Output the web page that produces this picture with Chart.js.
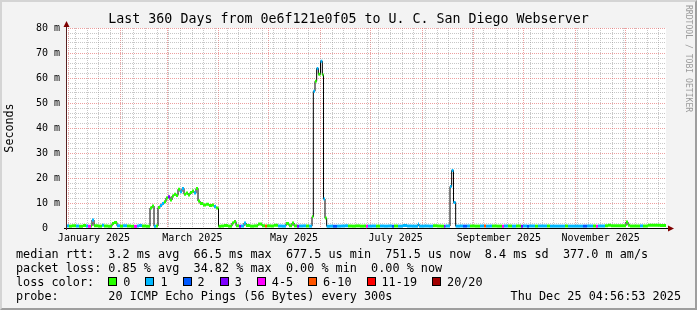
<!DOCTYPE html>
<html>
<head>
<meta charset="utf-8">
<script src="https://cdn.jsdelivr.net/npm/chart.js@4.4.1/dist/chart.umd.min.js"></script>
<style>
html, body { margin: 0; padding: 0; }
body { width: 697px; height: 310px; background: #f3f3f3; position: relative; overflow: hidden;
       font-family: 'DejaVu Sans Mono', monospace; color: #000; }
#wrap { position: absolute; left: 0; top: 0; width: 697px; height: 310px; }
#frame { position: absolute; left: 0; top: 0; width: 697px; height: 310px; box-sizing: border-box;
         border: 2px solid; border-color: #d4d4d4 #9e9e9e #9e9e9e #d4d4d4; pointer-events: none; }
#title { position: absolute; top: 11px; left: 0; width: 697px; text-align: center;
         font-size: 13.3px; line-height: 16px; white-space: pre; }
#mark { position: absolute; left: 684px; top: 5px; writing-mode: vertical-rl;
        font-size: 8.1px; color: #9a9a9a; white-space: pre; }
.leg { position: absolute; left: 16px; font-size: 11.8px; line-height: 14px; white-space: pre; }
#l1 { top: 247px; }
#l2 { top: 261px; }
#l3 { top: 275px; display: flex; align-items: baseline; }
#l4 { top: 289px; }
#stamp { position: absolute; right: 16px; top: 289px; font-size: 11.8px; line-height: 14px; white-space: pre; }
.box { display: inline-block; width: 7px; height: 7px; border: 1px solid #000; margin-right: 6px; }
.item { margin-right: 15px; }
</style>
</head>
<body>
<div id="wrap"><canvas id="rttChart"></canvas></div>
<div id="title">Last 360 Days from 0e6f121e0f05 to U. C. San Diego Webserver</div>
<div id="mark">RRDTOOL / TOBI OETIKER</div>
<div class="leg" id="l1">median rtt:  3.2 ms avg  66.5 ms max  677.5 us min  751.5 us now  8.4 ms sd  377.0 m am/s</div>
<div class="leg" id="l2">packet loss: 0.85 % avg  34.82 % max  0.00 % min  0.00 % now</div>
<div class="leg" id="l3"><span>loss color:  </span></div>
<div class="leg" id="l4">probe:       20 ICMP Echo Pings (56 Bytes) every 300s</div>
<div id="stamp">Thu Dec 25 04:56:53 2025</div>
<div id="frame"></div>
<script>
// loss categories (smokeping defaults)
const lossColors = ['#26ff00', '#00b8ff', '#0059ff', '#7e00ff', '#ff00ff', '#ff5500', '#ff0000', '#a10000'];
const lossLabels = ['0', '1', '2', '3', '4-5', '6-10', '11-19', '20/20'];

// median rtt steps: start day (since graph start), median in ms, loss category
const stepDays = [
    0, 1.8, 3.6, 6.0, 7.8, 10.2, 12.0, 13.2, 15.0, 15.6, 16.8, 19.2, 21.6, 22.8, 25.2, 27.6, 28.8, 30.6, 32.4, 34.2,
    36.6, 39.0, 40.8, 42.6, 43.8, 45.6, 48.0, 50.4, 51.6, 52.8, 54.0, 55.2, 56.4, 57.6, 58.8, 60.0, 61.2, 62.4, 63.6, 64.8,
    66.0, 67.2, 68.4, 69.6, 70.8, 72.0, 73.2, 74.4, 75.6, 76.8, 78.0, 79.2, 80.4, 82.2, 84.0, 85.8, 87.6, 88.8, 90.0, 91.5,
    93.0, 94.8, 97.2, 99.6, 100.8, 102.0, 103.8, 105.0, 106.8, 108.0, 110.4, 112.8, 115.2, 117.6, 119.4, 120.6, 123.0, 124.8, 127.2, 129.6,
    132.0, 133.8, 135.6, 136.8, 138.6, 139.8, 142.2, 144.0, 145.8, 147.6, 148.4, 149.4, 150.4, 151.4, 152.7, 153.8, 154.5, 155.4, 156.4, 158.4,
    160.2, 162.6, 165.0, 167.4, 169.2, 171.6, 174.0, 176.4, 178.8, 180.0, 181.2, 183.6, 186.0, 188.4, 190.8, 193.2, 195.6, 196.8, 199.2, 202.2,
    204.6, 207.6, 211.2, 211.8, 214.8, 217.8, 220.2, 222.6, 225.0, 226.8, 227.7, 230.4, 231.4, 232.5, 233.8, 236.4, 238.2, 240.6, 242.4, 245.4,
    248.4, 250.8, 252.0, 254.4, 255.6, 258.6, 261.6, 262.8, 265.2, 267.6, 270.0, 273.0, 274.2, 276.6, 277.8, 281.4, 283.2, 288.6, 290.4, 299.4,
    301.2, 310.2, 312.6, 316.2, 318.0, 319.2, 323.4, 325.2, 327.0, 336.0, 337.2, 338.4, 344.4, 346.2, 349.2, 356.4
];
const medianMs = [
    0.85, 0.75, 0.9, 0.8, 0.7, 1.0, 0.8, 0.68, 0.85, 3.2, 0.9, 0.75, 1.1, 0.8, 0.7, 1.8, 2.2, 0.9, 0.75, 0.9,
    0.8, 0.68, 0.65, 0.85, 1.0, 0.8, 0.7, 8.0, 8.8, 0.7, 0.8, 8.2, 9.0, 9.8, 10.5, 12.0, 12.5, 11.2, 12.8, 13.5,
    13.0, 15.5, 14.5, 15.8, 13.5, 14.0, 13.2, 14.2, 14.8, 14.0, 15.8, 10.8, 9.8, 9.2, 9.5, 9.0, 9.2, 8.6, 8.0, 0.7,
    0.8, 1.0, 0.75, 2.0, 2.6, 0.9, 0.68, 0.8, 2.0, 1.0, 0.75, 0.85, 1.6, 0.9, 0.8, 0.85, 0.8, 1.1, 0.8, 0.75,
    1.8, 0.9, 2.0, 0.85, 0.68, 0.8, 0.85, 0.8, 0.75, 4.5, 54.7, 58.7, 63.8, 61.5, 66.7, 61.3, 11.6, 4.0, 0.7, 0.75,
    0.7, 0.75, 0.8, 0.9, 0.8, 0.75, 0.85, 0.75, 0.8, 0.75, 0.75, 0.8, 0.75, 0.8, 0.75, 0.8, 0.7, 0.8, 0.75, 1.0,
    0.8, 0.75, 1.6, 0.75, 0.8, 0.75, 0.9, 0.8, 0.75, 0.7, 0.8, 16.6, 23.0, 10.2, 0.75, 0.8, 0.75, 0.8, 0.8, 0.75,
    0.8, 0.8, 0.75, 0.8, 0.8, 0.75, 0.75, 0.8, 0.8, 0.75, 0.8, 0.75, 0.8, 0.75, 0.8, 0.75, 0.8, 0.8, 0.75, 0.8,
    0.75, 0.75, 0.8, 0.8, 0.75, 0.8, 0.9, 1.1, 0.9, 2.4, 1.1, 0.8, 0.85, 0.8, 1.1, 1.0
];
const lossLevel = [
    1, 0, 0, 1, 0, 0, 1, 4, 0, 1, 0, 0, 1, 0, 0, 0, 0, 1, 0, 1,
    0, 0, 4, 1, 1, 0, 0, 0, 0, 1, 0, 0, 1, 1, 0, 0, 3, 0, 0, 0,
    0, 0, 1, 1, 0, 0, 0, 0, 0, 1, 0, 0, 0, 0, 0, 0, 0, 1, 0, 0,
    0, 0, 0, 0, 0, 0, 3, 1, 1, 0, 0, 0, 0, 0, 5, 0, 0, 0, 1, 1,
    0, 0, 0, 0, 3, 1, 1, 0, 1, 0, 1, 0, 1, 0, 1, 0, 1, 0, 1, 1,
    2, 1, 1, 1, 0, 0, 0, 0, 0, 4, 1, 1, 0, 1, 1, 1, 2, 0, 1, 1,
    1, 1, 1, 1, 1, 1, 0, 0, 0, 3, 1, 1, 1, 1, 1, 1, 2, 1, 0, 0,
    1, 5, 1, 1, 0, 0, 4, 1, 0, 1, 0, 3, 1, 2, 1, 0, 1, 0, 1, 0,
    1, 2, 1, 0, 4, 1, 0, 0, 0, 0, 0, 0, 1, 0, 0, 0
];

const monthLabels = ['January 2025', 'March 2025', 'May 2025', 'July 2025', 'September 2025', 'November 2025'];

const DAY = 864e5;
const spanDays = 360;
const startTime = Date.UTC(2025, 11, 25, 4, 56, 53) - spanDays * DAY;
const toDays = (t) => (t - startTime) / DAY;

// x grid: month starts (major), sundays (minor), label ticks at mid month
const xTicks = [];
for (let m = 0; m < 12; m++) {
    xTicks.push({ value: toDays(Date.UTC(2025, m, 1)), kind: 'month' });
}
for (let t = Date.UTC(2025, 0, 5); toDays(t) < spanDays; t += 7 * DAY) {
    const v = toDays(t);
    if (!xTicks.some(k => k.kind === 'month' && Math.abs(k.value - v) < 0.7)) {
        xTicks.push({ value: v, kind: 'week' });
    }
}
monthLabels.forEach((label, i) => {
    xTicks.push({ value: toDays(Date.UTC(2025, i * 2, 1)) + 15, kind: 'label', text: label });
});
xTicks.sort((a, b) => a.value - b.value);

// legend boxes
const l3 = document.getElementById('l3');
lossLabels.forEach((label, i) => {
    const box = document.createElement('span');
    box.className = 'box';
    box.style.background = lossColors[i];
    const txt = document.createElement('span');
    txt.className = 'item';
    txt.textContent = label;
    l3.appendChild(box);
    l3.appendChild(txt);
});

const stepEnd = (i) => (i + 1 < stepDays.length ? stepDays[i + 1] : spanDays);
const medianLine = stepDays.map((d, i) => ({ x: d, y: medianMs[i] }));
medianLine.push({ x: spanDays, y: medianMs[medianMs.length - 1] });
const lossSegments = [];
stepDays.forEach((d, i) => {
    lossSegments.push({ x: d, y: medianMs[i] }, { x: stepEnd(i), y: medianMs[i] });
});

const gridGray = 'rgba(143, 143, 143, 0.5)';
const gridRed = 'rgba(222, 80, 80, 0.55)';

const rrdFrame = {
    id: 'rrdFrame',
    beforeDraw(chart) {
        const { ctx, chartArea: a } = chart;
        ctx.save();
        ctx.fillStyle = '#ffffff';
        ctx.fillRect(a.left, a.top, a.right - a.left, a.bottom - a.top);
        ctx.restore();
    },
    afterDatasetsDraw(chart) {
        const { ctx, chartArea: a } = chart;
        const x0 = Math.round(a.left) + 0.5;
        const y0 = Math.round(a.bottom) + 0.5;
        ctx.save();
        ctx.lineWidth = 1;
        ctx.strokeStyle = '#000000';
        ctx.beginPath();
        ctx.moveTo(a.left - 2, y0);
        ctx.lineTo(a.right + 3, y0);
        ctx.stroke();
        ctx.strokeStyle = '#5a2020';
        ctx.beginPath();
        ctx.moveTo(x0, a.bottom + 2);
        ctx.lineTo(x0, a.top - 3);
        ctx.stroke();
        ctx.fillStyle = '#7f0000';
        ctx.beginPath();
        ctx.moveTo(x0, a.top - 7);
        ctx.lineTo(x0 - 3, a.top - 1);
        ctx.lineTo(x0 + 3, a.top - 1);
        ctx.closePath();
        ctx.fill();
        ctx.beginPath();
        ctx.moveTo(a.right + 8, y0);
        ctx.lineTo(a.right + 2, y0 - 3);
        ctx.lineTo(a.right + 2, y0 + 3);
        ctx.closePath();
        ctx.fill();
        ctx.restore();
    }
};

Chart.defaults.font.family = "'DejaVu Sans Mono', monospace";
Chart.defaults.color = '#000000';

new Chart(document.getElementById('rttChart'), {
    type: 'line',
    data: {
        datasets: [{
            data: lossSegments,
            order: 0,
            borderWidth: 3,
            borderColor: lossColors[0],
            borderCapStyle: 'butt',
            pointRadius: 0,
            segment: {
                borderColor: (ctx) => ctx.p0DataIndex % 2 === 0
                    ? lossColors[lossLevel[ctx.p0DataIndex / 2]]
                    : 'rgba(0,0,0,0)'
            }
        }, {
            data: medianLine,
            order: 1,
            stepped: 'before',
            borderWidth: 1,
            borderColor: '#000000',
            pointRadius: 0
        }]
    },
    options: {
        responsive: true,
        maintainAspectRatio: false,
        animation: false,
        layout: { padding: { left: 0, right: 31, top: 28, bottom: 62 } },
        plugins: { legend: { display: false }, tooltip: { enabled: false } },
        scales: {
            x: {
                type: 'linear',
                min: 0,
                max: spanDays,
                afterBuildTicks: (scale) => { scale.ticks = xTicks.map(t => ({ ...t })); },
                afterFit: (scale) => { scale.height = 20; },
                border: { display: false, dash: [1, 1] },
                grid: {
                    drawTicks: false,
                    color: (ctx) => ctx.tick && ctx.tick.kind === 'month' ? gridRed
                        : (ctx.tick && ctx.tick.kind === 'week' ? gridGray : 'rgba(0,0,0,0)')
                },
                ticks: {
                    autoSkip: false,
                    maxRotation: 0,
                    padding: 4,
                    font: { size: 10 },
                    callback: (value, index, ticks) => ticks[index].text || ''
                }
            },
            y: {
                min: 0,
                max: 80,
                afterFit: (scale) => { scale.width = 66; },
                border: { display: false, dash: [1, 1] },
                grid: {
                    drawTicks: false,
                    color: (ctx) => ctx.tick && ctx.tick.value % 10 === 0 ? gridRed : gridGray
                },
                title: {
                    display: true,
                    text: 'Seconds',
                    font: { size: 11.7 },
                    padding: { top: 3, bottom: 0 }
                },
                ticks: {
                    stepSize: 2,
                    autoSkip: false,
                    padding: 6,
                    font: { size: 10 },
                    callback: (value) => value % 10 !== 0 ? '' : (value === 0 ? '0  ' : value + ' m')
                }
            }
        }
    },
    plugins: [rrdFrame]
});
</script>
</body>
</html>
